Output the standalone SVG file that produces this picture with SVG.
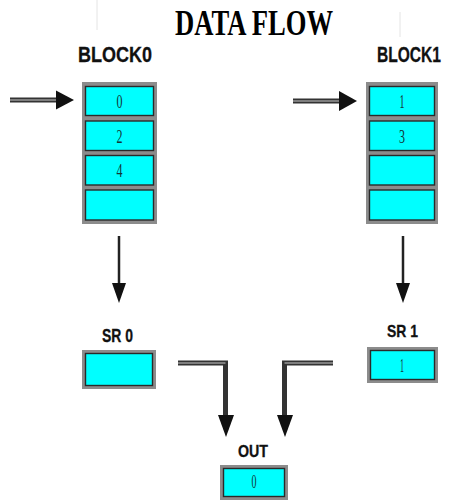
<svg xmlns="http://www.w3.org/2000/svg" width="451" height="502" viewBox="0 0 451 502">
<style>
.frame{fill:#8c8c8c}
.cell{fill:#00ffff;stroke:#2a2a2a;stroke-width:1.4}
.num{font-family:"Liberation Serif",serif;font-size:19px;fill:#143434;text-anchor:middle}
.lbl{font-family:"Liberation Sans",Arial,sans-serif;font-weight:bold;fill:#111;stroke:#111;stroke-width:0.3}
.dl{fill:none;stroke:#333;stroke-width:5}
.dli{fill:none;stroke:#999;stroke-width:1.5}
.vl{fill:none;stroke:#222;stroke-width:2.5}
.head{fill:#111}
</style>
<rect width="451" height="502" fill="#fff"/>
<line x1="97" y1="0" x2="97" y2="30" stroke="#e4e4e4" stroke-width="1"/>
<line x1="400" y1="12" x2="400" y2="37" stroke="#e4e4e4" stroke-width="1"/>
<text id="title" x="175" y="35" font-family="Liberation Serif,serif" font-weight="bold" font-size="36" fill="#000" textLength="158" lengthAdjust="spacingAndGlyphs">DATA FLOW</text>

<g id="block0">
<text class="lbl" x="78" y="62" font-size="22" textLength="74" lengthAdjust="spacingAndGlyphs">BLOCK0</text>
<rect class="frame" x="82" y="82" width="75" height="142"/>
<rect class="cell" x="85.5" y="86.5" width="68" height="29"/>
<rect class="cell" x="85.5" y="121" width="68" height="29.5"/>
<rect class="cell" x="85.5" y="155.5" width="68" height="29.5"/>
<rect class="cell" x="85.5" y="190" width="68" height="30"/>
<text class="num" x="119.5" y="108" textLength="6" lengthAdjust="spacingAndGlyphs">0</text>
<text class="num" x="119.5" y="143" textLength="6" lengthAdjust="spacingAndGlyphs">2</text>
<text class="num" x="119.5" y="177" textLength="6" lengthAdjust="spacingAndGlyphs">4</text>
</g>

<g id="block1">
<text class="lbl" transform="translate(377,62) scale(0.708,1)" x="0" y="0" font-size="22">BLOCK1</text>
<rect class="frame" x="366" y="82" width="72" height="142"/>
<rect class="cell" x="369.5" y="86.5" width="65" height="29"/>
<rect class="cell" x="369.5" y="121" width="65" height="29.5"/>
<rect class="cell" x="369.5" y="155.5" width="65" height="29.5"/>
<rect class="cell" x="369.5" y="190" width="65" height="30"/>
<text class="num" x="402" y="108" textLength="5" lengthAdjust="spacingAndGlyphs">1</text>
<text class="num" x="402" y="143" textLength="6" lengthAdjust="spacingAndGlyphs">3</text>
</g>

<g id="sr0">
<text class="lbl" x="102" y="342" font-size="18" textLength="31" lengthAdjust="spacingAndGlyphs">SR 0</text>
<rect class="frame" x="82" y="350" width="74" height="39"/>
<rect class="cell" x="85.5" y="353.5" width="67" height="32"/>
</g>

<g id="sr1">
<text class="lbl" x="387" y="337" font-size="17" textLength="31" lengthAdjust="spacingAndGlyphs">SR 1</text>
<rect class="frame" x="367" y="347" width="71" height="36"/>
<rect class="cell" x="370.5" y="350.5" width="64" height="29"/>
<text class="num" x="402" y="372" textLength="4" lengthAdjust="spacingAndGlyphs">1</text>
</g>

<g id="out">
<text class="lbl" x="238" y="457" font-size="16" textLength="30" lengthAdjust="spacingAndGlyphs">OUT</text>
<rect class="frame" x="220" y="465" width="68" height="35"/>
<rect class="cell" x="223.5" y="468.5" width="61" height="28"/>
<text class="num" x="254" y="488" textLength="5" lengthAdjust="spacingAndGlyphs">0</text>
</g>

<g id="connectors">
<line class="dl" x1="10" y1="100" x2="58" y2="100"/>
<line class="dli" x1="10" y1="100" x2="58" y2="100"/>
<polygon class="head" points="56,90.5 74,100 56,109.5"/>
<line class="dl" x1="293" y1="101" x2="341" y2="101"/>
<line class="dli" x1="293" y1="101" x2="341" y2="101"/>
<polygon class="head" points="339,91 357,101 339,111"/>

<line class="vl" x1="119" y1="236" x2="119" y2="285"/>
<polygon class="head" points="112,283 126,283 119,303"/>
<line class="vl" x1="403" y1="236" x2="403" y2="285"/>
<polygon class="head" points="396,283 410,283 403,303"/>

<path class="dl" d="M178,363 H225.5 V417"/>
<path class="dli" d="M178,363 H225.5"/>
<polygon class="head" points="218,415 234,415 226,437"/>
<path class="dl" d="M333,363 H284.5 V417"/>
<path class="dli" d="M333,363 H284.5"/>
<polygon class="head" points="277,415 293,415 285,437"/>
</g>
</svg>
